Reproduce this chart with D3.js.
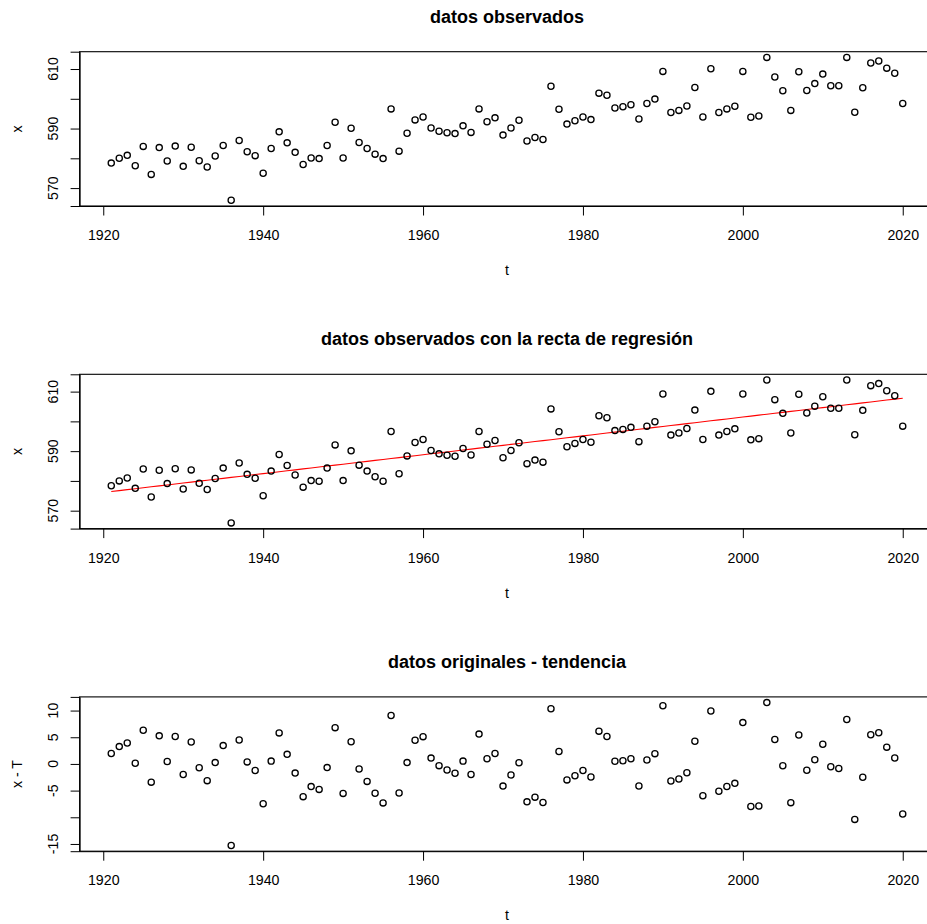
<!DOCTYPE html>
<html>
<head>
<meta charset="utf-8">
<script src="https://cdn.jsdelivr.net/npm/d3@7"></script>
<style>
  html, body { margin: 0; padding: 0; background: #fff; }
  svg { display: block; font-family: "Liberation Sans", Arial, Helvetica, sans-serif; }
</style>
</head>
<body>
<svg id="chart" width="927" height="924"></svg>
<script>
// Annual series, 1921–2020
const years = d3.range(1921, 2021);
const observed = [
  578.4, 580.0, 581.0, 577.5, 584.0, 574.6, 583.6, 579.1, 584.1, 577.3,
  583.7, 579.2, 577.1, 580.8, 584.3, 565.9, 586.0, 582.2, 580.9, 575.0,
  583.3, 588.9, 585.2, 582.0, 577.9, 580.1, 579.9, 584.3, 592.1, 580.1,
  590.1, 585.3, 583.3, 581.4, 579.9, 596.6, 582.4, 588.4, 592.9, 593.9,
  590.2, 589.1, 588.6, 588.3, 590.9, 588.7, 596.6, 592.3, 593.6, 587.8,
  590.2, 592.8, 585.8, 587.0, 586.3, 604.2, 596.5, 591.5, 592.6, 593.9,
  593.0, 601.9, 601.2, 596.9, 597.3, 598.0, 593.2, 598.4, 599.9, 609.2,
  595.4, 596.1, 597.6, 603.8, 593.9, 610.1, 595.4, 596.6, 597.5, 609.2,
  593.8, 594.2, 613.9, 607.3, 602.7, 596.1, 609.1, 602.8, 605.1, 608.3,
  604.4, 604.4, 613.9, 595.5, 603.7, 612.0, 612.7, 610.3, 608.6, 598.4
];

// Axis ticks and their printed labels (R drops labels that would collide)
const yearTicks = [1920, 1940, 1960, 1980, 2000, 2020];
const xTicks = [570, 580, 590, 600, 610];
const xTickLabels = ["570", "", "590", "", "610"];
const residTicks = [-15, -10, -5, 0, 5, 10];
const residTickLabels = ["-15", "", "-5", "0", "5", "10"];

const titles = ["datos observados", "datos observados con la recta de regresión", "datos originales - tendencia"];

// Least-squares line x = a + b t
const tMean = d3.mean(years), xMean = d3.mean(observed);
const slope = d3.sum(years, (t, i) => (t - tMean) * (observed[i] - xMean)) /
              d3.sum(years, t => (t - tMean) * (t - tMean));
const intercept = xMean - slope * tMean;
const fitted = years.map(t => intercept + slope * t);
const residuals = observed.map((v, i) => v - fitted[i]);

const svg = d3.select("#chart");
const panelStep = 322.6;
const box = { left: 79.6, right: 934.4, top: 51.7, bottom: 206 };

// R-style range: data extent padded by 4% on each side
function padded(vals) {
  const [lo, hi] = d3.extent(vals);
  const r = hi - lo;
  return [lo - 0.04 * r, hi + 0.04 * r];
}

const xScale = d3.scaleLinear().domain(padded(years)).range([box.left, box.right]);

function panel(k, values, yLab, ticks, tickLabels, withLine) {
  const g = svg.append("g").attr("transform", `translate(0,${k * panelStep})`);
  const y = d3.scaleLinear().domain(padded(values)).range([box.bottom, box.top]);

  g.append("text")
    .attr("x", (box.left + box.right) / 2).attr("y", 22.5)
    .attr("text-anchor", "middle")
    .attr("font-size", 18).attr("font-weight", "bold")
    .text(titles[k]);

  // bottom axis
  const xa = g.append("g").attr("transform", `translate(0,${box.bottom})`)
    .call(d3.axisBottom(xScale).tickValues(yearTicks).tickFormat(d3.format("d"))
      .tickSize(9.5).tickPadding(14.5).tickSizeOuter(0));
  xa.select(".domain").attr("stroke", "#000");
  xa.selectAll(".tick line").attr("stroke", "#000");
  xa.selectAll(".tick text").attr("font-size", 14.2).attr("fill", "#000")
    .attr("font-family", "Liberation Sans, Arial, sans-serif");

  // left axis with vertical labels
  const ya = g.append("g").attr("transform", `translate(${box.left},0)`)
    .call(d3.axisLeft(y).tickValues(ticks).tickSize(9).tickFormat(""));
  ya.select(".domain").attr("stroke", "#000");
  ya.selectAll(".tick line").attr("stroke", "#000");
  g.selectAll("text.ylab").data(ticks).join("text")
    .attr("class", "ylab")
    .attr("transform", d => `translate(57.8,${y(d)}) rotate(-90)`)
    .attr("text-anchor", "middle").attr("font-size", 14.2)
    .text((d, i) => tickLabels[i]);

  // axis titles
  g.append("text").attr("x", (box.left + box.right) / 2).attr("y", 275)
    .attr("text-anchor", "middle").attr("font-size", 14.2).text("t");
  g.append("text").attr("transform", `translate(22,${(box.top + box.bottom) / 2}) rotate(-90)`)
    .attr("text-anchor", "middle").attr("font-size", 14.2).text(yLab);

  if (withLine) {
    g.append("path").datum(years)
      .attr("fill", "none").attr("stroke", "#ff0000").attr("stroke-width", 1.1)
      .attr("d", d3.line().x(t => xScale(t)).y((t, i) => y(fitted[i])));
  }

  g.selectAll("circle").data(values).join("circle")
    .attr("cx", (d, i) => xScale(years[i]))
    .attr("cy", d => y(d))
    .attr("r", 3.1)
    .attr("fill", "none").attr("stroke", "#000").attr("stroke-width", 1.3);

  // plot frame
  g.append("rect")
    .attr("x", box.left).attr("y", box.top)
    .attr("width", box.right - box.left).attr("height", box.bottom - box.top)
    .attr("fill", "none").attr("stroke", "#000").attr("stroke-width", 1.1);
}

panel(0, observed, "x", xTicks, xTickLabels, false);
panel(1, observed, "x", xTicks, xTickLabels, true);
panel(2, residuals, "x - T", residTicks, residTickLabels, false);
</script>
</body>
</html>
